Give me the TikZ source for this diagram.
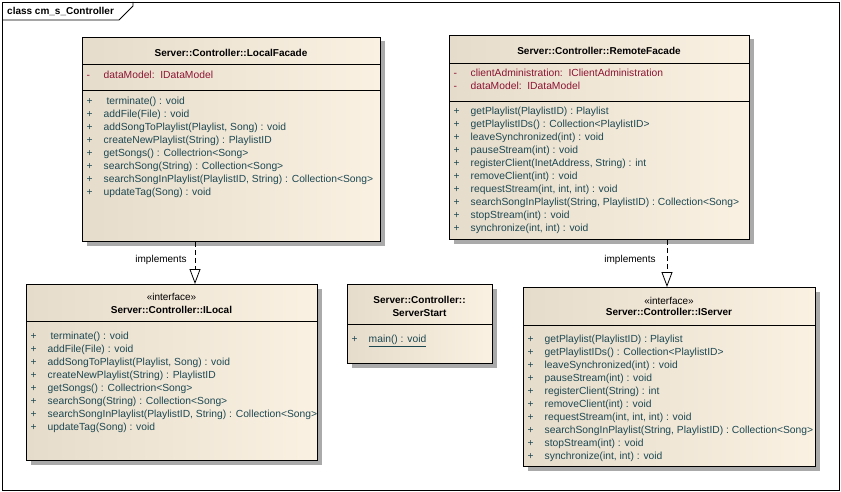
\documentclass[tikz,border=0pt]{standalone}
\usepackage{fontspec}
\setmainfont{Liberation Sans}
\usetikzlibrary{arrows.meta,shadows}
\definecolor{boxL}{RGB}{230,220,203}
\definecolor{boxR}{RGB}{251,241,226}
\definecolor{optxt}{RGB}{28,72,82}
\definecolor{attxt}{RGB}{140,20,50}
\definecolor{shadowc}{RGB}{170,170,170}
\newcommand\umlrow[5]{\node[#1] (#2) at (#3) {\makebox[17pt][l]{#4}#5};}
\begin{document}
\begin{tikzpicture}[x=1pt,y=-1pt,
  umlbox/.style={draw=black, line width=1pt, left color=boxL, right color=boxR,
    anchor=north west, inner sep=0pt,
    drop shadow={shadow xshift=4pt, shadow yshift=-4pt, fill=shadowc, opacity=1}},
  sepline/.style={draw=black, line width=0.8pt},
  rowtxt/.style={anchor=base west, inner sep=0pt, font=\fontsize{10.3}{12}\selectfont},
  optext/.style={rowtxt, text=optxt},
  attext/.style={rowtxt, text=attxt},
  titletxt/.style={anchor=base, inner sep=0pt, font=\fontsize{10}{12}\selectfont\bfseries},
  stereo/.style={anchor=base, inner sep=0pt, font=\fontsize{10}{12}\selectfont},
  implarrow/.style={draw=black, line width=0.8pt, dash pattern=on 5pt off 3pt,
    -{Triangle[length=15pt, width=11pt, fill=white, line width=0.8pt]}},
  lbl/.style={anchor=base, inner sep=0pt, font=\fontsize{10}{12}\selectfont},
]
\useasboundingbox[fill=white] (0,0) rectangle (841,492);

% outer frame
\draw[line width=0.8pt] (2,2) rectangle (839,490);
\draw[line width=0.8pt] (2,20) -- (119,20) -- (133,6) -- (133,2);
\node[anchor=base west, inner sep=0pt, font=\fontsize{10}{12}\selectfont\bfseries] (tabtitle) at (7,14.5) {class cm\_s\_Controller};

% boxes
\node[umlbox, minimum width=298, minimum height=204] (lf) at (82,37) {};
\node[umlbox, minimum width=300, minimum height=204] (rf) at (449,35) {};
\node[umlbox, minimum width=291, minimum height=176] (il) at (26,284) {};
\node[umlbox, minimum width=292, minimum height=179] (is) at (523,287) {};
\node[umlbox, minimum width=145, minimum height=79] (ss) at (347,284) {};

% separators
\draw[sepline] (lf.west |- 0,64) -- (lf.east |- 0,64);
\draw[sepline] (lf.west |- 0,90) -- (lf.east |- 0,90);
\draw[sepline] (rf.west |- 0,63) -- (rf.east |- 0,63);
\draw[sepline] (rf.west |- 0,101) -- (rf.east |- 0,101);
\draw[sepline] (il.west |- 0,321) -- (il.east |- 0,321);
\draw[sepline] (is.west |- 0,325) -- (is.east |- 0,325);
\draw[sepline] (ss.west |- 0,324) -- (ss.east |- 0,324);

% LocalFacade
\node[titletxt] (lft) at (231,56.6) {Server::Controller::LocalFacade};
\umlrow{attext}{lfa1}{86.5,78.5}{-}{dataModel:\ \ IDataModel}
\umlrow{optext}{lfo1}{86.5,104.5}{+}{\ terminate() : void}
\umlrow{optext}{lfo2}{86.5,117.5}{+}{addFile(File) : void}
\umlrow{optext}{lfo3}{86.5,130.5}{+}{addSongToPlaylist(Playlist, Song) : void}
\umlrow{optext}{lfo4}{86.5,143.5}{+}{createNewPlaylist(String) : PlaylistID}
\umlrow{optext}{lfo5}{86.5,156.5}{+}{getSongs() : Collectrion<Song>}
\umlrow{optext}{lfo6}{86.5,169.5}{+}{searchSong(String) : Collection<Song>}
\umlrow{optext}{lfo7}{86.5,182.5}{+}{searchSongInPlaylist(PlaylistID, String) : Collection<Song>}
\umlrow{optext}{lfo8}{86.5,195.5}{+}{updateTag(Song) : void}

% RemoteFacade
\node[titletxt] (rft) at (599,54.6) {Server::Controller::RemoteFacade};
\umlrow{attext}{rfa1}{453.5,76.5}{-}{clientAdministration:\ \ IClientAdministration}
\umlrow{attext}{rfa2}{453.5,89.5}{-}{dataModel:\ \ IDataModel}
\umlrow{optext}{rfo1}{453.5,114.5}{+}{getPlaylist(PlaylistID) : Playlist}
\umlrow{optext}{rfo2}{453.5,127.5}{+}{getPlaylistIDs() : Collection<PlaylistID>}
\umlrow{optext}{rfo3}{453.5,140.5}{+}{leaveSynchronized(int) : void}
\umlrow{optext}{rfo4}{453.5,153.5}{+}{pauseStream(int) : void}
\umlrow{optext}{rfo5}{453.5,166.5}{+}{registerClient(InetAddress, String) : int}
\umlrow{optext}{rfo6}{453.5,179.5}{+}{removeClient(int) : void}
\umlrow{optext}{rfo7}{453.5,192.5}{+}{requestStream(int, int, int) : void}
\umlrow{optext}{rfo8}{453.5,205.5}{+}{searchSongInPlaylist(String, PlaylistID) : Collection<Song>}
\umlrow{optext}{rfo9}{453.5,218.5}{+}{stopStream(int) : void}
\umlrow{optext}{rfo10}{453.5,231.5}{+}{synchronize(int, int) : void}

% ILocal
\node[stereo] (ils) at (171.5,300.5) {«interface»};
\node[titletxt] (ilt) at (171.5,313.6) {Server::Controller::ILocal};
\umlrow{optext}{ilo1}{30.5,339.5}{+}{\ terminate() : void}
\umlrow{optext}{ilo2}{30.5,352.5}{+}{addFile(File) : void}
\umlrow{optext}{ilo3}{30.5,365.5}{+}{addSongToPlaylist(Playlist, Song) : void}
\umlrow{optext}{ilo4}{30.5,378.5}{+}{createNewPlaylist(String) : PlaylistID}
\umlrow{optext}{ilo5}{30.5,391.5}{+}{getSongs() : Collectrion<Song>}
\umlrow{optext}{ilo6}{30.5,404.5}{+}{searchSong(String) : Collection<Song>}
\umlrow{optext}{ilo7}{30.5,417.5}{+}{searchSongInPlaylist(PlaylistID, String) : Collection<Song>}
\umlrow{optext}{ilo8}{30.5,430.5}{+}{updateTag(Song) : void}

% ServerStart
\node[titletxt] (sst1) at (419.5,303.6) {Server::Controller::};
\node[titletxt] (sst2) at (419.5,316.6) {ServerStart};
\umlrow{optext}{sso1}{351.5,342.5}{+}{\underline{main() : void}}

% IServer
\node[stereo] (iss) at (669,304.3) {«interface»};
\node[titletxt] (ist) at (669,315.9) {Server::Controller::IServer};
\umlrow{optext}{iso1}{527.5,342.5}{+}{getPlaylist(PlaylistID) : Playlist}
\umlrow{optext}{iso2}{527.5,355.5}{+}{getPlaylistIDs() : Collection<PlaylistID>}
\umlrow{optext}{iso3}{527.5,368.5}{+}{leaveSynchronized(int) : void}
\umlrow{optext}{iso4}{527.5,381.5}{+}{pauseStream(int) : void}
\umlrow{optext}{iso5}{527.5,394.5}{+}{registerClient(String) : int}
\umlrow{optext}{iso6}{527.5,407.5}{+}{removeClient(int) : void}
\umlrow{optext}{iso7}{527.5,420.5}{+}{requestStream(int, int, int) : void}
\umlrow{optext}{iso8}{527.5,433.5}{+}{searchSongInPlaylist(String, PlaylistID) : Collection<Song>}
\umlrow{optext}{iso9}{527.5,446.5}{+}{stopStream(int) : void}
\umlrow{optext}{iso10}{527.5,459.5}{+}{synchronize(int, int) : void}

% realizations
\coordinate (lx) at (195,0);
\coordinate (rx) at (667,0);
\draw[implarrow] (lf.south -| lx) -- (il.north -| lx);
\draw[implarrow] (rf.south -| rx) -- (is.north -| rx);
\node[lbl] (impl1) at (161,262.5) {implements};
\node[lbl] (impl2) at (630,262.5) {implements};
\end{tikzpicture}
\end{document}
